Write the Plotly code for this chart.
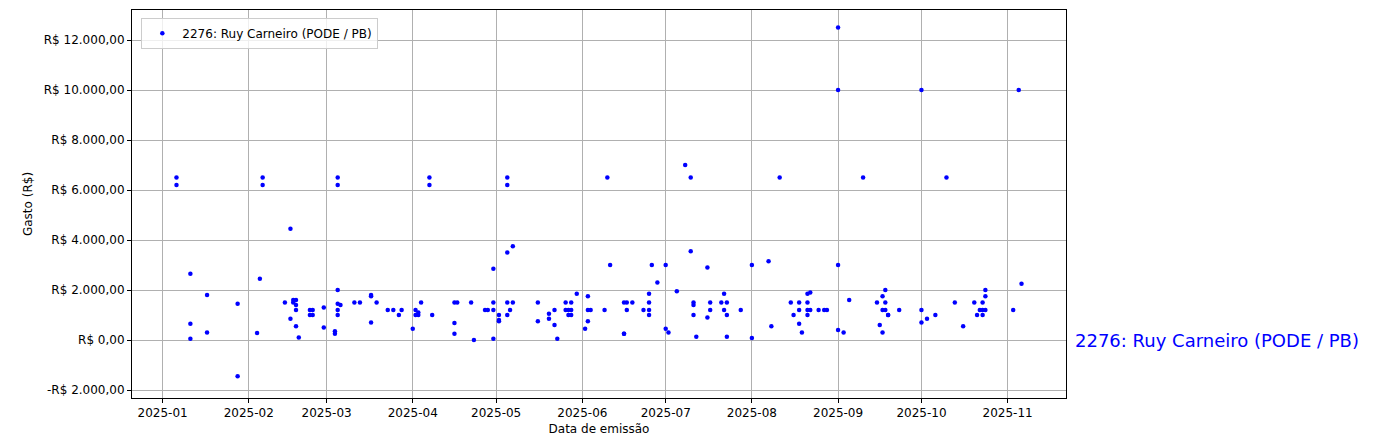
import plotly.graph_objects as go

label = "2276: Ruy Carneiro (PODE / PB)"
dates = [
 "2025-01-06","2025-01-06","2025-01-11","2025-01-11","2025-01-11","2025-01-17","2025-01-17","2025-01-28","2025-01-28",
 "2025-02-04","2025-02-05","2025-02-06","2025-02-06","2025-02-14","2025-02-16","2025-02-16","2025-02-17","2025-02-17",
 "2025-02-18","2025-02-18","2025-02-18","2025-02-19","2025-02-18","2025-02-23","2025-02-23","2025-02-24","2025-02-24",
 "2025-02-28","2025-02-28","2025-03-04","2025-03-04","2025-03-05","2025-03-05","2025-03-05","2025-03-05","2025-03-05","2025-03-05",
 "2025-03-06","2025-03-11","2025-03-13","2025-03-17","2025-03-17","2025-03-17","2025-03-19","2025-03-23","2025-03-25",
 "2025-03-27","2025-03-28","2025-04-01","2025-04-02","2025-04-02","2025-04-03","2025-04-04","2025-04-03","2025-04-07","2025-04-07",
 "2025-04-08","2025-04-16","2025-04-16","2025-04-16","2025-04-17","2025-04-22","2025-04-23","2025-04-27","2025-04-28",
 "2025-04-30","2025-04-30","2025-04-30","2025-04-30","2025-05-02","2025-05-02","2025-05-02","2025-05-05","2025-05-05",
 "2025-05-05","2025-05-07","2025-05-05","2025-05-06","2025-05-05","2025-05-07","2025-05-16","2025-05-16","2025-05-20",
 "2025-05-20","2025-05-22","2025-05-22","2025-05-23","2025-05-26","2025-05-28","2025-05-26","2025-05-27","2025-05-28",
 "2025-05-27","2025-05-28","2025-05-30","2025-06-03","2025-06-03","2025-06-03","2025-06-02","2025-06-04","2025-06-09",
 "2025-06-10","2025-06-11","2025-06-16","2025-06-17","2025-06-17","2025-06-16","2025-06-16","2025-06-19","2025-06-23",
 "2025-06-25","2025-06-25","2025-06-25","2025-06-25","2025-06-26","2025-06-28","2025-07-01","2025-07-01","2025-07-02",
 "2025-07-05","2025-07-08","2025-07-10","2025-07-10","2025-07-11","2025-07-11","2025-07-11","2025-07-12","2025-07-16",
 "2025-07-16","2025-07-17","2025-07-17","2025-07-21","2025-07-22","2025-07-22","2025-07-23","2025-07-23","2025-07-23",
 "2025-07-28","2025-08-01","2025-08-01","2025-08-07","2025-08-08","2025-08-11","2025-08-15","2025-08-16","2025-08-18",
 "2025-08-18","2025-08-18","2025-08-19","2025-08-21","2025-08-21","2025-08-22","2025-08-21","2025-08-22","2025-08-21",
 "2025-08-25","2025-08-27","2025-08-28","2025-09-01","2025-09-01","2025-09-01","2025-09-01","2025-09-03","2025-09-05",
 "2025-09-10","2025-09-15","2025-09-16","2025-09-17","2025-09-17","2025-09-18","2025-09-18","2025-09-17","2025-09-19",
 "2025-09-18","2025-09-19","2025-09-23","2025-10-01","2025-10-01","2025-10-01","2025-10-03","2025-10-06","2025-10-10",
 "2025-10-13","2025-10-16","2025-10-20","2025-10-21","2025-10-22","2025-10-23","2025-10-23","2025-10-23","2025-10-24",
 "2025-10-24","2025-10-24","2025-11-03","2025-11-05","2025-11-06",
]
values = [
 6500,6200,2650,650,50,1800,300,1450,-1450,
 280,2450,6500,6200,1500,4450,850,1500,1600,
 550,1400,1600,100,1200,1200,1000,1200,1000,
 1300,500,350,250,6500,6200,2000,1450,1000,1200,
 1400,1500,1500,1800,1750,700,1500,1200,1200,
 1000,1200,450,1200,1000,1100,1500,1000,6500,6200,
 1000,1500,680,250,1500,1500,0,1200,1200,
 1200,2850,1500,50,1000,750,800,6500,6200,
 3500,3750,1500,1200,1000,1500,1500,750,1050,
 850,1200,600,50,1500,1500,1200,1200,1000,
 1000,1200,1850,1750,1200,750,450,1200,1200,
 6500,3000,1500,1500,1200,250,250,1500,1200,
 1850,1500,1200,1000,3000,2300,3000,450,300,
 1950,7000,6500,3550,1500,1400,1000,130,2900,
 900,1500,1200,1500,1850,1200,1500,1000,130,
 1200,3000,80,3150,550,6500,1500,1000,1500,
 1200,650,300,1500,1850,1900,1200,1200,1000,
 1200,1200,1200,12500,10000,3000,400,300,1600,
 6500,1500,600,300,1750,1500,2000,1200,1000,
 1200,1000,1200,10000,1200,700,850,1000,6500,
 1500,550,1500,1000,1200,1200,1500,1000,1750,
 2000,1200,1200,10000,2250,
]

tick_dates = ["2025-01-01","2025-02-01","2025-03-01","2025-04-01","2025-05-01","2025-06-01",
              "2025-07-01","2025-08-01","2025-09-01","2025-10-01","2025-11-01"]
y_ticks = [-2000, 0, 2000, 4000, 6000, 8000, 10000, 12000]
y_labels = ["-R$ 2.000,00","R$ 0,00","R$ 2.000,00","R$ 4.000,00","R$ 6.000,00",
            "R$ 8.000,00","R$ 10.000,00","R$ 12.000,00"]

fig = go.Figure(go.Scatter(x=dates, y=values, mode="markers", name=label,
                           marker=dict(color="blue", size=4.5, line=dict(width=0))))
fig.add_annotation(x=1.008, xref="paper", y=0, yref="y", text=label, showarrow=False,
                   xanchor="left", font=dict(size=18, color="blue"))
axis = dict(showline=True, linecolor="black", mirror=True, ticks="outside", ticklen=4,
            tickcolor="black", showgrid=True, gridcolor="#b0b0b0", zeroline=False,
            tickfont=dict(size=12, color="black"))
fig.update_layout(
    width=1387, height=448, plot_bgcolor="white", paper_bgcolor="white",
    margin=dict(l=124, r=329, t=2, b=58),
    font=dict(family="DejaVu Sans", color="black"),
    showlegend=True,
    legend=dict(x=0.01, y=0.98, xanchor="left", yanchor="top", bordercolor="#cccccc",
                borderwidth=1, font=dict(size=12), bgcolor="rgba(255,255,255,0.8)"),
    xaxis=dict(axis, tickvals=tick_dates, tickformat="%Y-%m",
               range=["2024-12-21", "2025-11-22"],
               title=dict(text="Data de emissão", font=dict(size=12), standoff=5)),
    yaxis=dict(axis, tickvals=y_ticks, ticktext=y_labels, range=[-2320, 13200],
               title=dict(text="Gasto (R$)", font=dict(size=12), standoff=8)),
)
fig.write_html("out.html")
